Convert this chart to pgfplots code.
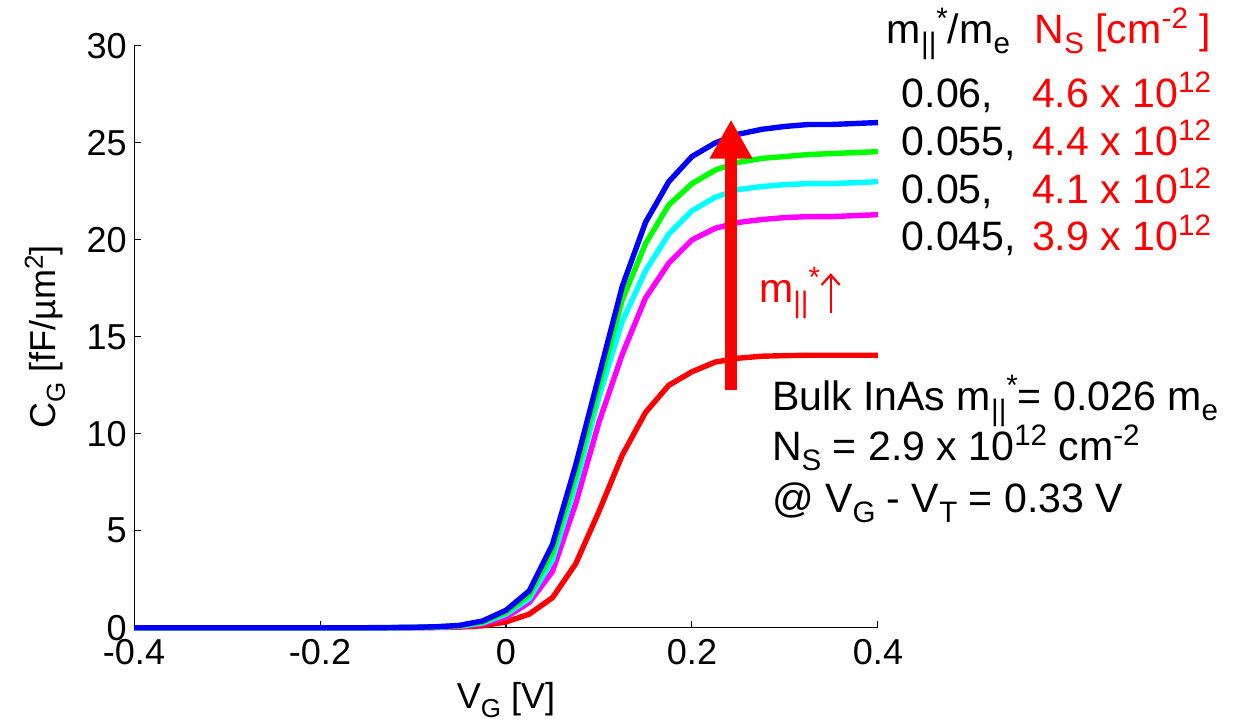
\documentclass[border=0pt]{standalone}
\usepackage{fontspec}
\setmainfont{Liberation Sans}
\usepackage{graphicx}
\usepackage{pgfplots}
\usepackage{pgfplotstable}
\pgfplotsset{compat=1.18}
\usetikzlibrary{arrows.meta}

\definecolor{cblue}{RGB}{0,0,255}
\definecolor{cgreen}{RGB}{0,255,0}
\definecolor{ccyan}{RGB}{0,255,255}
\definecolor{cmag}{RGB}{255,0,255}
\definecolor{cred}{RGB}{255,0,0}

% MATLAB-like sub/superscripts
\newcommand{\sub}[1]{\raisebox{-0.25em}{\scalebox{0.72}{#1}}}
\newcommand{\sps}[1]{\raisebox{0.36em}{\scalebox{0.72}{#1}}}
\newcommand{\annfont}{\fontsize{20.5}{24}\selectfont}

% V_G, then C_G for m*/me = 0.06, 0.055, 0.05, 0.045, bulk 0.026
\pgfplotstableread{
x      b      g      c      m      r
-0.400 0      0      0      0      0
-0.375 0      0      0      0      0
-0.350 0      0      0      0      0
-0.325 0      0      0      0      0
-0.300 0      0      0      0      0
-0.275 0      0      0      0      0
-0.250 0      0      0      0      0
-0.225 0      0      0      0      0
-0.200 0      0      0      0      0
-0.175 0      0      0      0      0
-0.150 0      0      0      0      0
-0.125 0.01   0      0      0      0
-0.100 0.02   0.02   0.01   0.01   0
-0.075 0.05   0.04   0.03   0.02   0.01
-0.050 0.12   0.10   0.08   0.06   0.03
-0.025 0.35   0.30   0.25   0.20   0.10
 0.000 0.90   0.80   0.70   0.55   0.30
 0.025 1.90   1.70   1.50   1.30   0.70
 0.050 4.30   3.90   3.50   2.90   1.55
 0.075 8.40   7.90   7.40   6.40   3.30
 0.100 13.0   12.5   11.9   10.6   6.00
 0.125 17.6   16.9   15.8   14.1   8.90
 0.150 20.9   19.8   18.4   17.0   11.1
 0.175 23.0   21.8   20.3   18.8   12.5
 0.200 24.3   22.9   21.5   20.0   13.2
 0.225 25.0   23.6   22.2   20.6   13.7
 0.250 25.45  24.0   22.6   20.9   13.9
 0.275 25.7   24.2   22.75  21.05  14.0
 0.300 25.85  24.3   22.85  21.15  14.03
 0.325 25.95  24.4   22.9   21.2   14.05
 0.350 25.95  24.45  22.9   21.2   14.05
 0.375 26.0   24.5   22.95  21.25  14.05
 0.400 26.05  24.55  23.0   21.3   14.05
}\cgdata

\begin{document}
\begin{tikzpicture}[font=\fontsize{18}{22}\selectfont]
\begin{axis}[
  scale only axis,
  width=371.5pt, height=290.5pt,
  xmin=-0.4, xmax=0.4, ymin=0, ymax=30,
  axis lines=left,
  axis line style={-, line width=0.5pt},
  xtick={-0.4,-0.2,0,0.2,0.4},
  ytick={0,5,10,15,20,25,30},
  tick align=inside,
  major tick length=3.5pt,
  tick style={line width=0.5pt, black},
  /pgf/number format/assume math mode=true,
  xticklabel style={anchor=north, inner sep=0pt, yshift=-5.5pt},
  yticklabel style={anchor=east, inner sep=0pt, xshift=-3.5pt},
  xlabel={V\sub{G} [V]},
  ylabel={C\sub{G} [fF/µm\sps{2}]},
  xlabel style={at={(axis description cs:0.5,-0.1394)}, anchor=base, inner sep=0pt},
  ylabel style={at={(axis description cs:-0.105,0.5)}, anchor=base, inner sep=0pt},
  clip=false,
  every node/.append style={inner sep=0pt},
]
\addplot[cred,  line width=2.7pt] table[x=x,y=r] {\cgdata};
\addplot[cmag,  line width=2.7pt] table[x=x,y=m] {\cgdata};
\addplot[ccyan, line width=2.7pt] table[x=x,y=c] {\cgdata};
\addplot[cgreen,line width=2.7pt] table[x=x,y=g] {\cgdata};
\addplot[cblue, line width=2.7pt] table[x=x,y=b] {\cgdata};

% big arrow: increasing mass
\draw[cred, line width=6pt, -{Triangle[width=20pt,length=19.5pt]}]
  (axis cs:0.242,12.24) -- (axis cs:0.242,26.2);

\node[anchor=base west, text=cred, font=\annfont] at (axis cs:0.2645,16.78) {m\sub{||}\sps{*}};
\draw[cred, line width=1.1pt, -{Straight Barb[length=5pt,width=9pt]}]
  (axis cs:0.3491,16.21) -- (axis cs:0.3491,18.28);

\node[anchor=base west, font=\annfont] at (axis cs:0.402,30.15) {m\sub{||}\sps{*}/m\sub{e}};
\node[anchor=base west, text=cred, font=\annfont] at (axis cs:0.561,30.15) {N\sub{S} [cm\sps{-2} ]};

\node[anchor=base west, font=\annfont] at (axis cs:0.418,26.85) {0.06,};
\node[anchor=base west, font=\annfont] at (axis cs:0.418,24.37) {0.055,};
\node[anchor=base west, font=\annfont] at (axis cs:0.418,21.89) {0.05,};
\node[anchor=base west, font=\annfont] at (axis cs:0.418,19.46) {0.045,};
\node[anchor=base west, text=cred, font=\annfont] at (axis cs:0.558,26.85) {4.6 x 10\sps{12}};
\node[anchor=base west, text=cred, font=\annfont] at (axis cs:0.558,24.37) {4.4 x 10\sps{12}};
\node[anchor=base west, text=cred, font=\annfont] at (axis cs:0.558,21.89) {4.1 x 10\sps{12}};
\node[anchor=base west, text=cred, font=\annfont] at (axis cs:0.558,19.46) {3.9 x 10\sps{12}};

\node[anchor=base west, font=\annfont] at (axis cs:0.2785,11.20) {Bulk InAs m\sub{||}\sps{*}= 0.026 m\sub{e}};
\node[anchor=base west, font=\annfont] at (axis cs:0.2785,8.62) {N\sub{S} = 2.9 x 10\sps{12} cm\sps{-2}};
\node[anchor=base west, font=\annfont] at (axis cs:0.2785,5.94) {@ V\sub{G} - V\sub{T} = 0.33 V};

\path (axis cs:-0.5441,-4.853) rectangle (axis cs:0.7925,32.37);
\end{axis}
\end{tikzpicture}
\end{document}
